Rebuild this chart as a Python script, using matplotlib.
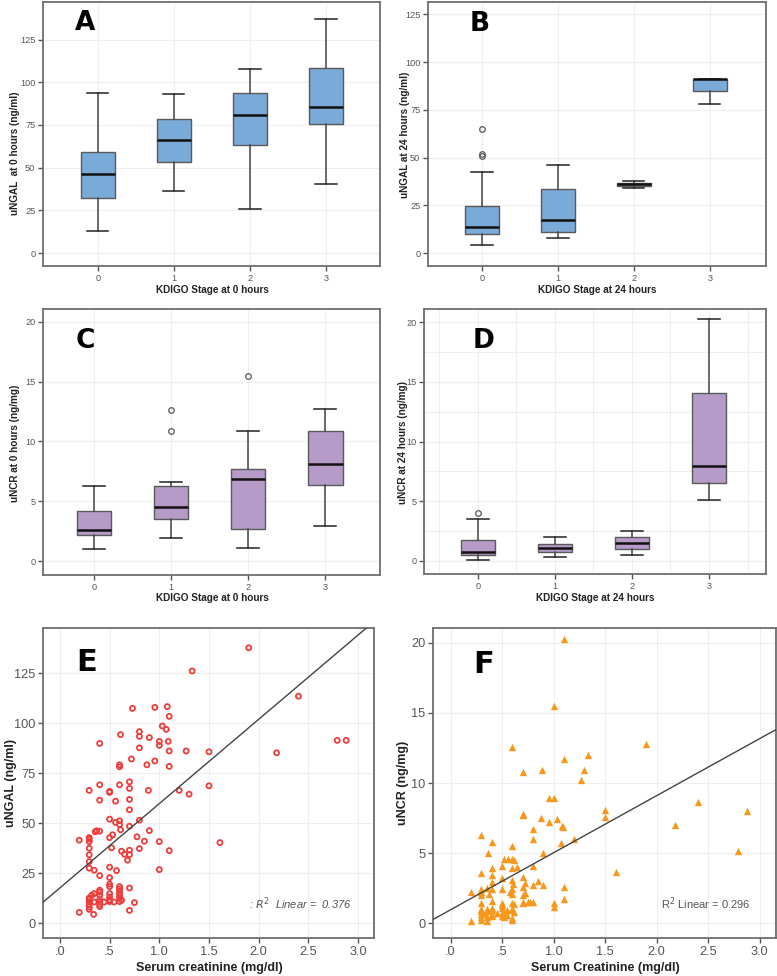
import numpy as np
import matplotlib
matplotlib.use("Agg")
import matplotlib.pyplot as plt

plt.rcParams['font.family'] = ['Liberation Sans', 'DejaVu Sans']

# ---------------- data ----------------
stages = [0, 1, 2, 3]
stage_labels = ['0', '1', '2', '3']

# Panel A: uNGAL at 0 h  (whislo, q1, med, q3, whishi)
A_whislo = [13.1, 36.2, 25.8, 40.3]
A_q1 = [32.3, 53.4, 63.0, 75.5]
A_med = [46.0, 65.9, 80.8, 85.7]
A_q3 = [58.9, 78.4, 93.9, 108.2]
A_whishi = [93.9, 93.1, 108.0, 137.1]
A_fliers = [[], [], [], []]

# Panel B: uNGAL at 24 h
B_whislo = [4.0, 8.0, 33.9, 78.1]
B_q1 = [10.1, 10.8, 35.0, 84.8]
B_med = [13.8, 17.1, 36.2, 91.3]
B_q3 = [24.7, 33.4, 36.7, 91.3]
B_whishi = [42.7, 46.2, 37.6, 91.3]
B_fliers = [[65.2, 51.7, 51.0], [], [], []]

# Panel C: uNCR at 0 h
C_whislo = [1.0, 1.92, 1.09, 2.95]
C_q1 = [2.17, 3.5, 2.7, 6.38]
C_med = [2.6, 4.5, 6.85, 8.08]
C_q3 = [4.2, 6.3, 7.7, 10.84]
C_whishi = [6.27, 6.63, 10.9, 12.75]
C_fliers = [[], [12.6, 10.9], [15.5], []]

# Panel D: uNCR at 24 h
D_whislo = [0.11, 0.36, 0.45, 5.08]
D_q1 = [0.45, 0.73, 0.98, 6.5]
D_med = [0.73, 1.06, 1.48, 7.96]
D_q3 = [1.73, 1.45, 1.96, 14.1]
D_whishi = [3.49, 2.04, 2.49, 20.28]
D_fliers = [[4.0], [], [], []]

# Panel E: serum creatinine vs uNGAL
E_x = [1.90, 1.33, 2.40, 0.73, 0.955, 1.08, 1.10, 1.03, 1.07, 0.80, 0.80, 0.61,
       0.90, 0.40, 1.09, 1.00, 1.00, 0.80, 1.10, 1.27, 1.50, 2.18, 2.79, 2.88,
       0.72, 0.955, 0.875, 0.60, 0.60, 1.10, 0.70, 0.40, 0.60, 0.70, 0.295, 0.50,
       0.50, 0.89, 1.20, 1.30, 1.50, 0.40, 0.56, 0.70, 0.70, 0.50, 0.60, 0.80,
       0.56, 0.60, 0.70, 0.61, 0.90, 0.37, 0.40, 0.355, 0.53, 0.50, 0.775, 0.295,
       0.295, 0.195, 0.295, 0.85, 1.00, 1.61, 0.52, 0.295, 0.80, 1.10, 0.62, 0.70,
       0.65, 0.70, 0.295, 0.68, 0.295, 0.50, 0.295, 0.345, 0.57, 1.00, 0.40, 0.50,
       0.50, 0.50, 0.60, 0.70, 0.60, 0.40, 0.60, 0.40, 0.345, 0.50, 0.60, 0.32,
       0.40, 0.60, 0.295, 0.50, 0.60, 0.295, 0.40, 0.50, 0.62, 0.295, 0.345, 0.40,
       0.445, 0.50, 0.545, 0.60, 0.75, 0.295, 0.40, 0.295, 0.40, 0.295, 0.70, 0.195,
       0.34]
E_y = [137.6, 126.0, 113.4, 107.3, 107.8, 108.2, 103.3, 98.5, 96.8, 95.7, 93.3, 94.2,
       92.7, 89.8, 90.8, 90.8, 88.8, 87.6, 86.0, 86.0, 85.6, 85.1, 91.3, 91.3,
       82.0, 81.0, 79.1, 79.1, 78.1, 78.3, 70.6, 69.1, 69.1, 67.3, 66.3, 65.8,
       65.3, 66.3, 66.3, 64.4, 68.6, 61.4, 60.9, 61.8, 56.6, 51.9, 51.1, 51.4,
       50.3, 49.2, 48.4, 46.6, 46.2, 46.1, 45.9, 45.6, 44.1, 42.7, 43.1, 42.7,
       41.9, 41.4, 40.7, 40.9, 40.7, 40.2, 37.6, 37.4, 37.2, 36.2, 35.9, 36.4,
       34.4, 34.2, 34.1, 31.4, 30.7, 27.9, 27.4, 26.4, 26.2, 26.7, 23.7, 22.7,
       19.4, 18.2, 18.2, 17.5, 17.0, 16.4, 15.9, 15.4, 14.7, 14.7, 14.7, 13.9,
       13.9, 13.7, 12.5, 13.0, 12.5, 11.9, 11.7, 11.5, 11.4, 10.7, 10.5, 10.5,
       10.5, 10.7, 10.5, 10.7, 10.2, 9.3, 9.3, 8.0, 8.2, 6.8, 6.3, 5.3,
       4.3]

# Panel F: serum creatinine vs uNCR
F_x = [1.10, 1.00, 0.60, 1.90, 1.33, 1.10, 1.30, 0.89, 0.70, 1.27, 0.96, 1.00,
       2.40, 1.50, 2.88, 0.70, 0.70, 1.50, 0.88, 1.03, 0.955, 2.18, 1.08, 1.09,
       0.80, 0.30, 0.80, 1.20, 0.40, 1.07, 0.60, 0.36, 0.90, 2.79, 0.52, 0.56,
       0.60, 0.62, 0.80, 0.50, 0.65, 0.40, 0.60, 1.61, 0.30, 0.40, 0.70, 0.50,
       0.60, 0.85, 0.40, 0.72, 0.61, 0.80, 0.90, 0.70, 1.10, 0.35, 0.30, 0.50,
       0.40, 0.60, 0.20, 0.30, 0.575, 0.60, 0.72, 0.37, 0.30, 0.70, 1.10, 0.40,
       0.75, 0.77, 0.70, 0.30, 0.50, 0.80, 1.00, 0.60, 0.70, 0.50, 0.62, 1.00,
       0.40, 0.30, 0.35, 0.50, 0.60, 0.40, 0.55, 0.30, 0.35, 0.60, 0.62, 0.45,
       0.50, 0.52, 0.30, 0.33, 0.40, 0.55, 0.40, 0.50, 0.30, 0.35, 0.52, 0.60,
       0.30, 0.20, 0.35, 0.60]
F_y = [20.3, 15.5, 12.6, 12.8, 12.0, 11.7, 10.9, 10.9, 10.8, 10.2, 8.9, 8.9,
       8.65, 8.1, 8.0, 7.8, 7.7, 7.55, 7.5, 7.4, 7.2, 7.0, 6.9, 6.85,
       6.7, 6.3, 6.0, 6.0, 5.8, 5.7, 5.5, 5.0, 5.0, 5.15, 4.55, 4.6,
       4.6, 4.5, 4.1, 4.1, 4.0, 3.9, 3.9, 3.65, 3.55, 3.4, 3.3, 3.2,
       3.1, 3.0, 2.9, 2.85, 2.8, 2.75, 2.7, 2.6, 2.55, 2.5, 2.45, 2.4,
       2.4, 2.4, 2.25, 2.2, 2.2, 2.1, 2.15, 2.1, 2.0, 2.0, 1.75, 1.6,
       1.5, 1.5, 1.5, 1.45, 1.45, 1.5, 1.4, 1.4, 1.4, 1.3, 1.35, 1.15,
       1.1, 1.0, 1.0, 1.05, 1.0, 0.95, 0.95, 0.85, 0.85, 0.9, 0.8, 0.7,
       0.7, 0.65, 0.65, 0.65, 0.65, 0.6, 0.5, 0.5, 0.4, 0.4, 0.4, 0.35,
       0.25, 0.15, 0.15, 0.25]

E_r2_text = ': $R^2$  Linear =  0.376'
F_r2_text = 'R$^2$ Linear = 0.296'

BLUE = '#7aaad7'
PURPLE = '#b69bc9'
RED = '#ee3b3b'
ORANGE = '#f7981d'
GRID = '#efefef'

W, H = 777, 976
fig = plt.figure(figsize=(W / 100, H / 100), dpi=100)
fig.patch.set_facecolor('white')


def add_axes(l, r, t, b):
    return fig.add_axes([l / W, 1 - b / H, (r - l) / W, (b - t) / H])


def ftext(px, py, s, **kw):
    fig.text(px / W, 1 - py / H, s, **kw)


def style_axes(ax, tick_size):
    for s in ax.spines.values():
        s.set_color('#6e6e6e')
        s.set_linewidth(1.3)
    ax.tick_params(axis='both', colors='#555555', labelcolor='#555555',
                   labelsize=tick_size, length=3.5, width=1, direction='out', pad=2)
    ax.set_axisbelow(True)


def box_panel(ax, whislo, q1, med, q3, whishi, fliers, color, ylim, yticks,
              letter, letterpos, xlim, minor_grid=False):
    stats = []
    for i in range(len(stages)):
        stats.append(dict(whislo=whislo[i], q1=q1[i], med=med[i], q3=q3[i],
                          whishi=whishi[i], fliers=fliers[i]))
    ax.bxp(stats, positions=stages, widths=0.45, patch_artist=True,
           boxprops=dict(facecolor=color, edgecolor='#5a5a5a', linewidth=1.0),
           medianprops=dict(color='#111111', linewidth=1.8),
           whiskerprops=dict(color='#444444', linewidth=1.1),
           capprops=dict(color='#222222', linewidth=1.1),
           capwidths=0.28,
           flierprops=dict(marker='o', markersize=4.0, markerfacecolor='none',
                           markeredgecolor='#555555', markeredgewidth=0.9))
    ax.set_xlim(*xlim)
    ax.set_ylim(*ylim)
    ax.set_yticks(yticks)
    ax.set_xticks(stages)
    ax.set_xticklabels(stage_labels)
    ax.grid(True, color=GRID, linewidth=0.8)
    if minor_grid:
        ax.set_yticks([2.5, 7.5, 12.5, 17.5], minor=True)
        ax.set_xticks([-0.5, 0.5, 1.5, 2.5, 3.5], minor=True)
        ax.tick_params(which='minor', length=0)
        ax.grid(True, which='minor', color=GRID, linewidth=0.8)
    style_axes(ax, 6.6)
    ax.text(letterpos[0], letterpos[1], letter, transform=ax.transAxes, fontsize=19,
            fontweight='heavy', family='DejaVu Sans', va='top', ha='left', color='black')


LAB = dict(fontweight='bold', color='#222222', ha='center', va='center')

# ---- A ----
axA = add_axes(43, 380, 2, 266)
box_panel(axA, A_whislo, A_q1, A_med, A_q3, A_whishi, A_fliers, BLUE,
          (-7.6, 147), [0, 25, 50, 75, 100, 125], 'A', (0.095, 0.97), (-0.72, 3.71))
ftext(212, 290, 'KDIGO Stage at 0 hours', fontsize=7.2, **LAB)
ftext(15, 153, 'uNGAL  at 0 hours (ng/ml)', fontsize=7.2, rotation=90, **LAB)

# ---- B ----
axB = add_axes(428, 766, 2, 266)
box_panel(axB, B_whislo, B_q1, B_med, B_q3, B_whishi, B_fliers, BLUE,
          (-6.8, 131.5), [0, 25, 50, 75, 100, 125], 'B', (0.124, 0.965), (-0.71, 3.74))
ftext(597, 290, 'KDIGO Stage at 24 hours', fontsize=7.2, **LAB)
ftext(405, 135, 'uNGAL at 24 hours (ng/ml)', fontsize=7.2, rotation=90, **LAB)

# ---- C ----
axC = add_axes(43, 380, 309, 575)
box_panel(axC, C_whislo, C_q1, C_med, C_q3, C_whishi, C_fliers, PURPLE,
          (-1.17, 21.07), [0, 5, 10, 15, 20], 'C', (0.098, 0.93), (-0.66, 3.71))
ftext(212, 598, 'KDIGO Stage at 0 hours', fontsize=7.2, **LAB)
ftext(15, 443, 'uNCR at 0 hours (ng/mg)', fontsize=7.2, rotation=90, **LAB)

# ---- D ----
axD = add_axes(424, 766, 309, 574)
box_panel(axD, D_whislo, D_q1, D_med, D_q3, D_whishi, D_fliers, PURPLE,
          (-1.1, 21.1), [0, 5, 10, 15, 20], 'D', (0.143, 0.93), (-0.70, 3.74),
          minor_grid=True)
ftext(595, 598, 'KDIGO Stage at 24 hours', fontsize=7.2, **LAB)
ftext(403, 443, 'uNCR at 24 hours (ng/mg)', fontsize=7.2, rotation=90, **LAB)


def scatter_panel(ax, x, y, marker, color, ylim, yticks, letter, r2text, r2pos,
                  letterpos):
    ax.set_xlim(-0.17, 3.16)
    ax.set_ylim(*ylim)
    xt = [0, 0.5, 1.0, 1.5, 2.0, 2.5, 3.0]
    ax.set_xticks(xt)
    ax.set_xticklabels(['.0', '.5', '1.0', '1.5', '2.0', '2.5', '3.0'])
    ax.set_yticks(yticks)
    ax.grid(True, color=GRID, linewidth=0.8)
    if marker == 'o':
        ax.scatter(x, y, s=13, marker='o', facecolors='none', edgecolors=color,
                   linewidths=1.3, zorder=3)
    else:
        ax.scatter(x, y, s=28, marker='^', color=color, linewidths=0, zorder=3)
    slope, intercept = np.polyfit(np.array(x), np.array(y), 1)
    xx = np.array([-0.5, 4.0])
    ax.plot(xx, intercept + slope * xx, color='#444444', linewidth=1.0, zorder=4)
    style_axes(ax, 9.2)
    ax.text(r2pos[0], r2pos[1], r2text, transform=ax.transAxes, fontsize=8,
            color='#555555', ha='right', va='center',
            style='italic' if marker == 'o' else 'normal')
    ax.text(letterpos[0], letterpos[1], letter, transform=ax.transAxes, fontsize=22,
            fontweight='heavy', family='DejaVu Sans', va='top', ha='left', color='black')


# ---- E ----
axE = add_axes(43, 374, 628, 938)
scatter_panel(axE, E_x, E_y, 'o', RED, (-7.5, 147.5), [0, 25, 50, 75, 100, 125],
              'E', E_r2_text, (0.933, 0.11), (0.10, 0.935))
ftext(209, 968, 'Serum creatinine (mg/dl)', fontsize=9, **LAB)
ftext(11, 783, 'uNGAL (ng/ml)', fontsize=9, rotation=90, **LAB)

# ---- F ----
axF = add_axes(433, 776, 628, 938)
scatter_panel(axF, F_x, F_y, '^', ORANGE, (-1.07, 21.07), [0, 5, 10, 15, 20],
              'F', F_r2_text, (0.927, 0.11), (0.117, 0.93))
ftext(605, 968, 'Serum Creatinine (mg/dl)', fontsize=9, **LAB)
ftext(403, 783, 'uNCR (ng/mg)', fontsize=9, rotation=90, **LAB)

fig.savefig('out.png', dpi=100, facecolor='white')
